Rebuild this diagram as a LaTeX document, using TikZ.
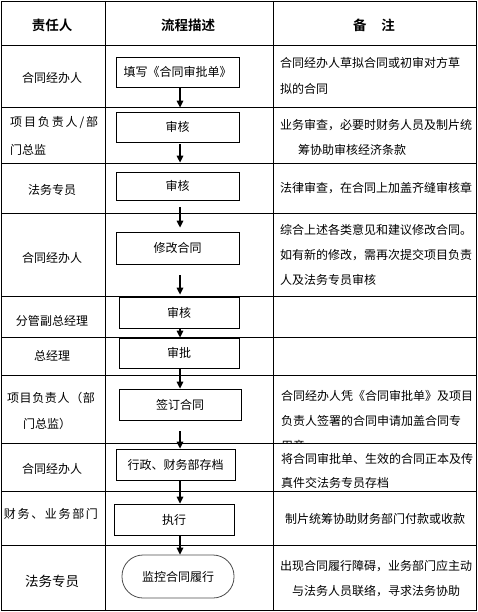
\documentclass[tikz,border=0pt]{standalone}
\usepackage{fontspec}
\setmainfont{Noto Sans CJK SC}[BoldFont={Noto Sans CJK SC Bold}]
\usetikzlibrary{arrows.meta,positioning}

\begin{document}
\begin{tikzpicture}[
    x=1pt, y=-1pt,
    grid/.style={draw=black, line width=0.8pt},
    head/.style={font=\fontsize{13.5}{16}\selectfont\bfseries, inner sep=0pt},
    duty/.style={font=\fontsize{12}{14}\selectfont, inner sep=0pt},
    note/.style={font=\fontsize{12}{14}\selectfont, anchor=west, inner sep=0pt},
    stepbox/.style={rectangle, draw, line width=0.8pt, font=\fontsize{12}{14}\selectfont, inner sep=0pt},
    endbox/.style={stepbox, draw=black!70, rounded corners=21pt},
    flow/.style={draw, line width=1.4pt, -{Triangle[length=7pt,width=6.5pt]}}
]
\useasboundingbox (0,0) rectangle (478,612);

% table grid
\draw[grid] (1,1) rectangle (476,610);
\foreach \yy in {45,107,163,213,296,337,375,443,491,545}
    \draw[grid] (1,\yy) -- (476,\yy);
\foreach \xx in {105,273}
    \draw[grid] (\xx,1) -- (\xx,610);

% header
\node[head] (h1) at (52,25) {责任人};
\node[head] (h2) at (188,25) {流程描述};
\node[head] (h3) at (374,25) {备\hspace{1.1em}注};

% who is responsible
\node[duty] (d1) at (52,78) {合同经办人};
\node[duty, anchor=west] (d2a) at (10,123) {\makebox[88pt]{项\hfill 目\hfill 负\hfill 责\hfill 人\hfill /\hfill 部}};
\node[duty, anchor=west] (d2b) at (10,150) {门总监};
\node[duty] (d3) at (52,190) {法务专员};
\node[duty] (d4) at (52,258) {合同经办人};
\node[duty] (d5) at (52,321) {分管副总经理};
\node[duty] (d6) at (52,356) {总经理};
\node[duty] (d7a) at (51,398) {\makebox[88pt]{项\hfill 目\hfill 负\hfill 责\hfill 人\hfill （\hfill 部}};
\node[duty] (d7b) at (47,424) {门总监）};
\node[duty] (d8) at (52,469) {合同经办人};
\node[duty] (d9) at (51,514) {\makebox[94pt]{财\hfill 务\hfill 、\hfill 业\hfill 务\hfill 部\hfill 门}};
\node[duty, font=\fontsize{13.5}{16}\selectfont] (d10) at (52,581) {法务专员};

% process steps
\coordinate (axis) at (180,0);
\node[stepbox, minimum width=123pt, minimum height=30pt] (b1) at (177.5,72) {填写《合同审批单》};
\node[stepbox, minimum width=123pt, minimum height=30pt] (b2) at (177.5,127) {审核};
\node[stepbox, minimum width=123pt, minimum height=28pt] (b3) at (177.5,186) {审核};
\node[stepbox, minimum width=123pt, minimum height=32pt] (b4) at (177.5,248) {修改合同};
\node[stepbox, minimum width=120pt, minimum height=31pt] (b5) at (179,312.5) {审核};
\node[stepbox, minimum width=120pt, minimum height=30pt] (b6) at (179,353) {审批};
\node[stepbox, minimum width=122pt, minimum height=31pt] (b7) at (180,404.5) {签订合同};
\node[stepbox, minimum width=119pt, minimum height=31pt] (b8) at (175.5,464.5) {行政、财务部存档};
\node[stepbox, minimum width=120pt, minimum height=31pt] (b9) at (174,519.5) {执行};
\node[endbox, minimum width=112pt, minimum height=43pt] (b10) at (178,576.5) {监控合同履行};

\draw[flow, shorten >=4pt] (b1.south -| axis) -- (b2.north -| axis);
\draw[flow, shorten <=2pt, shorten >=9pt] (b2.south -| axis) -- (b3.north -| axis);
\draw[flow, shorten <=7pt, shorten >=4pt] (b3.south -| axis) -- (b4.north -| axis);
\draw[flow, shorten <=11pt, shorten >=2pt] (b4.south -| axis) -- (b5.north -| axis);
\draw[flow] (b5.south -| axis) -- (b6.north -| axis);
\draw[flow] (b6.south -| axis) -- (b7.north -| axis);
\draw[flow, shorten <=11pt] (b7.south -| axis) -- (b8.north -| axis);
\draw[flow] (b8.south -| axis) -- (b9.north -| axis);
\draw[flow] (b9.south -| axis) -- (b10.north -| axis);

% remarks
\node[note] (r1a) at (280,63) {合同经办人草拟合同或初审对方草};
\node[note] (r1b) at (280,89) {拟的合同};
\node[note] (r2a) at (280,125) {业务审查，必要时财务人员及制片统};
\node[note] (r2b) at (298,150) {筹协助审核经济条款};
\node[note] (r3) at (280,188) {法律审查，在合同上加盖齐缝审核章};
\node[note] (r4a) at (280,230) {综合上述各类意见和建议修改合同。};
\node[note] (r4b) at (280,255) {如有新的修改，需再次提交项目负责};
\node[note] (r4c) at (280,280) {人及法务专员审核};
\node[note] (r7a) at (281,396) {合同经办人凭《合同审批单》及项目};
\node[note] (r7b) at (281,421) {负责人签署的合同申请加盖合同专};
\begin{scope}
    \clip (273,375) rectangle (476,443);
    \node[note] (r7c) at (281,446) {用章};
\end{scope}
\node[note] (r8a) at (281,459) {将合同审批单、生效的合同正本及传};
\node[note] (r8b) at (281,483) {真件交法务专员存档};
\node[note] (r9) at (285,519) {制片统筹协助财务部门付款或收款};
\node[note] (r10a) at (280,566) {出现合同履行障碍，业务部门应主动};
\node[note] (r10b) at (292,591) {与法务人员联络，寻求法务协助};

\end{tikzpicture}
\end{document}
